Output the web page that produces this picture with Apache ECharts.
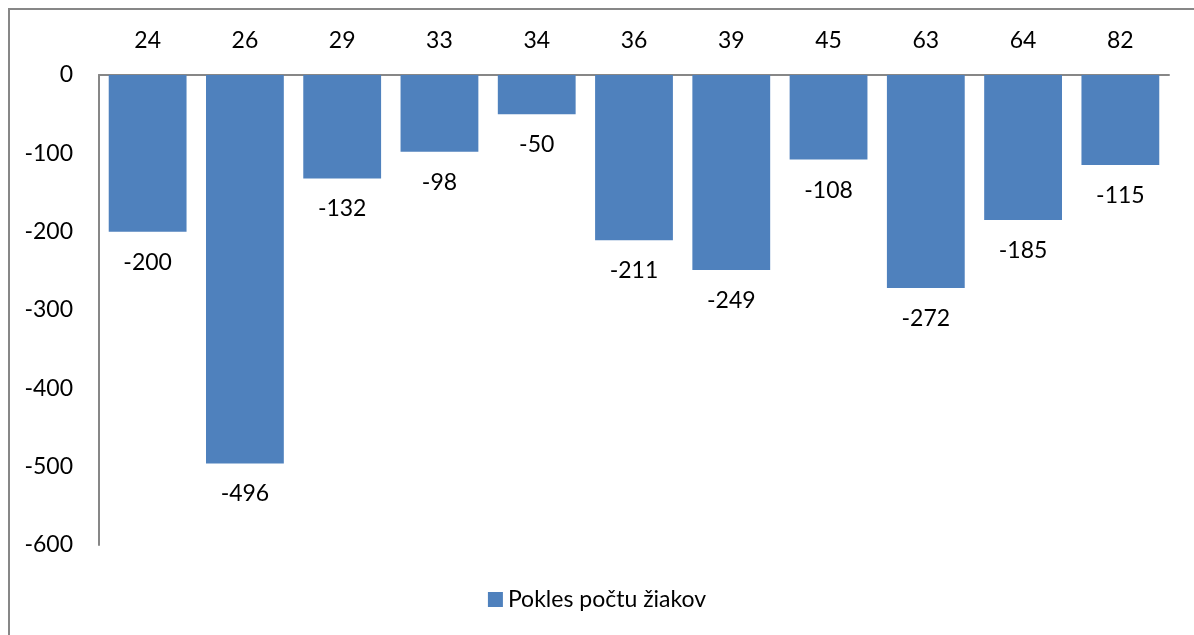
<!DOCTYPE html>
<html>
<head>
<meta charset="utf-8">
<script src="https://cdn.jsdelivr.net/npm/echarts@6/dist/echarts.min.js"></script>
<style>
  html, body { margin: 0; padding: 0; background: #fff; overflow: hidden; }
  #wrap { position: absolute; left: 0; top: 0; width: 1194px; height: 635px; }
  #frame { position: absolute; left: 8px; top: 8px; width: 1300px; height: 700px;
           border-left: 2px solid #878787; border-top: 2px solid #878787; box-sizing: border-box; }
  #chart { position: absolute; left: 0; top: 0; width: 1194px; height: 635px; }
</style>
</head>
<body>
<div id="wrap">
  <div id="frame"></div>
  <div id="chart"></div>
</div>
<script>
// kategórie (čísla na osi x) a pokles počtu žiakov
const categories = ["24", "26", "29", "33", "34", "36", "39", "45", "63", "64", "82"];
const pokles = [-200, -496, -132, -98, -50, -211, -249, -108, -272, -185, -115];
const seriesName = "Pokles počtu žiakov";

const FONT = "Lato, 'Open Sans', sans-serif";
const FS = 23;
const chart = echarts.init(document.getElementById("chart"), null, { renderer: "canvas" });

chart.setOption({
  backgroundColor: "transparent",
  animation: false,
  textStyle: { fontFamily: FONT },
  grid: { left: 99, top: 75, width: 1070, height: 470 },
  legend: {
    data: [seriesName],
    bottom: 19,
    left: "center",
    itemWidth: 15, itemHeight: 15, itemGap: 6,
    icon: "rect",
    textStyle: { fontFamily: FONT, fontSize: FS, color: "#000" },
  },
  xAxis: {
    type: "category",
    data: categories,
    position: "top",
    axisLine: { lineStyle: { color: "#878787", width: 2 } },
    axisTick: { show: false },
    axisLabel: { color: "#000", fontSize: FS, fontFamily: FONT, margin: 23 },
  },
  yAxis: {
    type: "value",
    min: -600, max: 0, interval: 100,
    axisLine: { show: true, lineStyle: { color: "#878787", width: 2 } },
    axisTick: { show: false },
    splitLine: { show: false },
    axisLabel: { color: "#000", fontSize: FS, fontFamily: FONT, margin: 26 },
  },
  series: [{
    name: seriesName,
    type: "bar",
    data: pokles,
    barCategoryGap: "20%",
    itemStyle: { color: "#4F81BD" },
    label: {
      show: true, position: "bottom", distance: 19,
      color: "#000", fontSize: FS, fontFamily: FONT,
    },
  }],
});
</script>
</body>
</html>
